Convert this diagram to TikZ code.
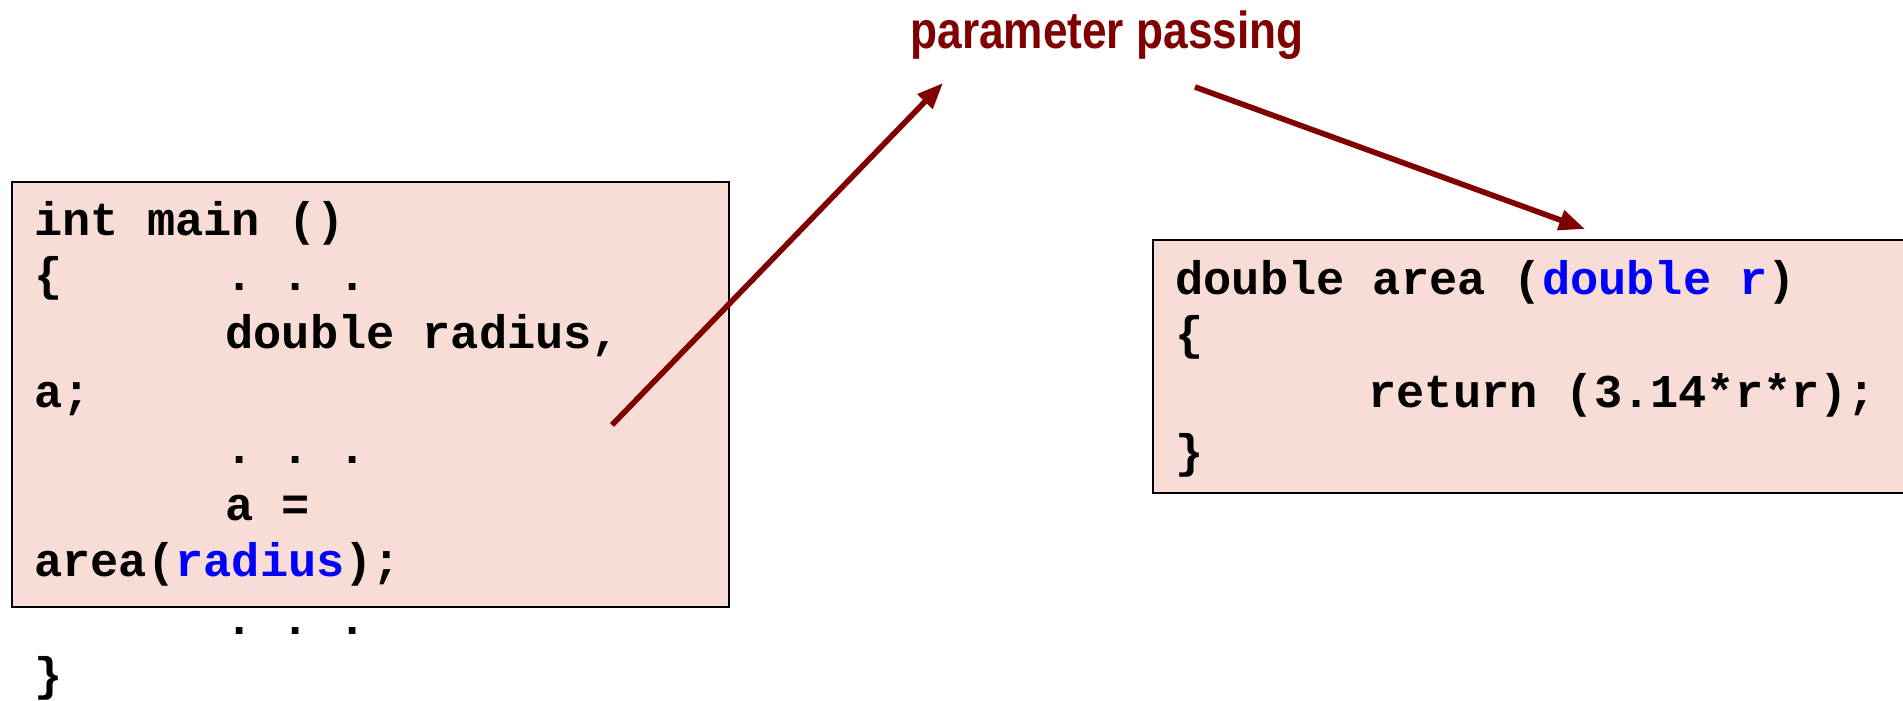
\documentclass[tikz,border=0pt]{standalone}
\usepackage{fontspec}
\setmonofont{Liberation Mono}
\newfontfamily\titlefont[FakeStretch=0.85]{Liberation Sans}
\usetikzlibrary{arrows.meta}
\definecolor{boxfill}{RGB}{247,221,213}
\definecolor{darkred}{RGB}{128,0,0}
\definecolor{codeblue}{RGB}{0,0,255}
\begin{document}
\begin{tikzpicture}[x=0.5pt,y=-0.5pt,
  code/.style={anchor=base west, inner sep=0pt, font=\ttfamily\bfseries\fontsize{23.5pt}{28pt}\selectfont},
  codebox/.style={draw=black, line width=1.4pt, fill=boxfill},
  arr/.style={draw=darkred, line width=2.8pt, -{Triangle[length=13pt,width=10pt]}}]
\clip (0,0) rectangle (1903,701);
\fill[white] (0,0) rectangle (1903,701);

% boxes
\draw[codebox] (12,182) rectangle (729,607);
\draw[codebox] (1153,240) rectangle (1920,493);

% left code
\node[code] (l1) at (34,235) {int main ()};
\node[code] (l2a) at (34,291) {\{};
\node[code] (l2b) at (225,291) {. . .};
\node[code] (l3) at (225,348) {double radius,};
\node[code] (l4) at (34,407) {a;};
\node[code] (l5) at (225,463) {. . .};
\node[code] (l6) at (225,520) {a =};
\node[code] (l7) at (34,576) {area(\textcolor{codeblue}{radius});};
\node[code] (l8) at (225,634) {. . .};
\node[code] (l9) at (34,690) {\}};

% right code
\node[code] (r1) at (1175,294) {double area (\textcolor{codeblue}{double r})};
\node[code] (r2) at (1175,349) {\{};
\node[code] (r3) at (1368,407) {return (3.14*r*r);};
\node[code] (r4) at (1175,467) {\}};

% title
\node[anchor=base, inner sep=0pt, text=darkred, font=\titlefont\bfseries\fontsize{26pt}{30pt}\selectfont] (title) at (1107,49) {parameter passing};

% arrows
\coordinate (a1s) at (612,425);
\coordinate (a1e) at (943,83);
\coordinate (a2s) at (1195,87);
\coordinate (a2e) at (1585,229);
\draw[arr] (a1s) -- (a1e);
\draw[arr] (a2s) -- (a2e);
\end{tikzpicture}
\end{document}
